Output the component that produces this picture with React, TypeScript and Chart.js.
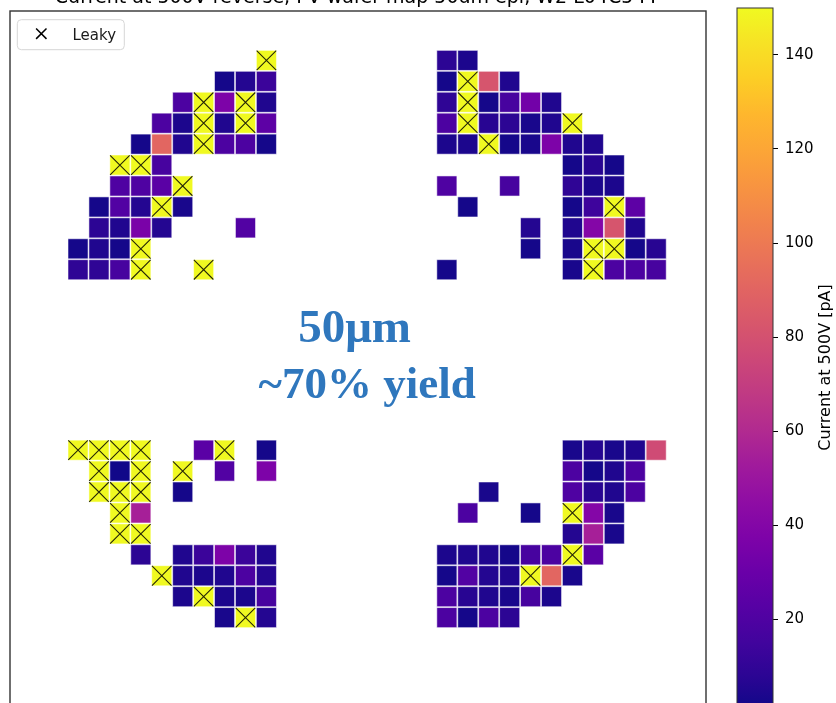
import React, { useEffect, useRef } from "react";
import { Chart, registerables } from "chart.js";

Chart.register(...registerables);

// ---- text ----
const TITLE = "Current at 500V reverse, PV wafer map 50um epi, W2 L04C5 FF";
const CBAR_LABEL = "Current at 500V [pA]";
const LEGEND_LABEL = "Leaky";
const NOTE_LINES = ["50\u03bcm", "~70% yield"];

// ---- colour scale ----
const V_MIN = 0;
const V_MAX = 150;
const CBAR_TICKS = [20, 40, 60, 80, 100, 120, 140];

// ---- die currents [pA] per quadrant, row by row from the top ----
// null: no die, L: leaky die (current beyond the colour scale)
const _ = null;
const L = "L";

const upperLeft = [
  [_, _, _, _, _, _, _, _, _, L],
  [_, _, _, _, _, _, _, 2, 6, 13],
  [_, _, _, _, _, 19, L, 37, L, 5],
  [_, _, _, _, 19, 4, L, 5, L, 25],
  [_, _, _, 2, 91, 5, L, 19, 19, 2],
  [_, _, L, L, 17, _, _, _, _, _],
  [_, _, 20, 20, 24, L, _, _, _, _],
  [_, 2, 21, 6, L, 3, _, _, _, _],
  [_, 8, 5, 36, 6, _, _, _, 21, _],
  [2, 5, 2, L, _, _, _, _, _, _],
  [9, 9, 17, L, _, _, L, _, _, _],
];

const upperRight = [
  [8, 4, _, _, _, _, _, _, _, _, _],
  [2, L, 82, 5, _, _, _, _, _, _, _],
  [9, L, 2, 17, 33, 5, _, _, _, _, _],
  [19, L, 7, 8, 3, 5, L, _, _, _, _],
  [4, 4, L, 2, 3, 37, 5, 5, _, _, _],
  [_, _, _, _, _, _, 2, 7, 2, _, _],
  [20, _, _, 17, _, _, 9, 4, 4, _, _],
  [_, 2, _, _, _, _, 2, 14, L, 25, _],
  [_, _, _, _, 6, _, 5, 40, 82, 5, _],
  [_, _, _, _, 2, _, 3, L, L, 2, 7],
  [2, _, _, _, _, _, 3, L, 19, 19, 17],
];

const lowerLeft = [
  [L, L, L, L, _, _, 24, L, _, 2],
  [_, L, 1, L, _, L, _, 21, _, 37],
  [_, L, L, L, _, 2, _, _, _, _],
  [_, _, L, 55, _, _, _, _, _, _],
  [_, _, L, L, _, _, _, _, _, _],
  [_, _, _, 8, _, 5, 13, 37, 13, 5],
  [_, _, _, _, L, 5, 4, 5, 19, 6],
  [_, _, _, _, _, 4, L, 4, 4, 17],
  [_, _, _, _, _, _, _, 3, L, 6],
];

const lowerRight = [
  [_, _, _, _, _, _, 3, 6, 3, 5, 77],
  [_, _, _, _, _, _, 19, 2, 5, 19, _],
  [_, _, 3, _, _, _, 20, 7, 5, 19, _],
  [_, 19, _, _, 2, _, L, 40, 3, _, _],
  [_, _, _, _, _, _, 6, 55, 3, _, _],
  [4, 5, 5, 2, 17, 19, L, 24, _, _, _],
  [2, 21, 6, 5, L, 91, 3, _, _, _, _],
  [19, 7, 5, 3, 17, 4, _, _, _, _, _],
  [19, 2, 19, 8, _, _, _, _, _, _, _],
];

// wafer position (in die pitches) of each quadrant's first column and first row
const QUADRANTS = [
  { grid: upperLeft, x0: -13.31, y0: 14.31 },
  { grid: upperRight, x0: 4.31, y0: 14.31 },
  { grid: lowerLeft, x0: -13.31, y0: -4.31 },
  { grid: lowerRight, x0: 4.31, y0: -4.31 },
];

const X_RANGE = [-16.56, 16.69];
const Y_RANGE = [-16.58, 16.67];

// matplotlib "plasma", sampled every 5 %
const PLASMA = [
  "#0d0887", "#2a0593", "#41049d", "#5601a4", "#6a00a8", "#7e03a8", "#8f0da4",
  "#a01a9c", "#b12a90", "#bf3984", "#cc4778", "#d7566c", "#e16462", "#ea7457",
  "#f2844b", "#f89540", "#fca636", "#feb72d", "#fcce25", "#f7e225", "#f0f921",
];

function hexRgb(h: string): number[] {
  return [1, 3, 5].map((i) => parseInt(h.slice(i, i + 2), 16));
}

function plasma(t: number): string {
  const n = PLASMA.length - 1;
  const u = Math.min(1, Math.max(0, t)) * n;
  const i = Math.min(n - 1, Math.floor(u));
  const f = u - i;
  const a = hexRgb(PLASMA[i]);
  const b = hexRgb(PLASMA[i + 1]);
  const c = a.map((v, k) => Math.round(v + (b[k] - v) * f));
  return `rgb(${c[0]},${c[1]},${c[2]})`;
}

function colourFor(v: number | null): string {
  if (v === null) return plasma(1);
  return plasma((v - V_MIN) / (V_MAX - V_MIN));
}

type Die = { x: number; y: number; v: number | null; leaky: boolean };

const dies: Die[] = [];
for (const q of QUADRANTS) {
  q.grid.forEach((row, r) =>
    row.forEach((cell, c) => {
      if (cell === null) return;
      const leaky = cell === L;
      dies.push({ x: q.x0 + c, y: q.y0 - r, v: leaky ? null : (cell as number), leaky });
    })
  );
}
const leakyDies = dies.filter((d) => d.leaky).map((d) => ({ x: d.x, y: d.y }));

const SANS = "'DejaVu Sans', sans-serif";

function pitch(chart: any): number {
  const s = chart.scales && chart.scales.x;
  if (!s) return 21;
  return Math.abs(s.getPixelForValue(1) - s.getPixelForValue(0));
}

const mapDecor = {
  id: "mapDecor",
  afterDraw(chart: any) {
    const { ctx, chartArea } = chart;
    const { left, right, top, bottom } = chartArea;
    const xs = chart.scales.x;
    const ys = chart.scales.y;
    ctx.save();

    // axes frame
    ctx.strokeStyle = "#333333";
    ctx.lineWidth = 1.4;
    ctx.strokeRect(left, top, right - left, bottom - top);

    // title
    ctx.fillStyle = "#000";
    ctx.font = `19px ${SANS}`;
    ctx.textAlign = "center";
    ctx.textBaseline = "alphabetic";
    ctx.fillText(TITLE, (left + right) / 2, top - 8);

    // legend
    const bx = left + 7.3;
    const by = top + 8.7;
    const bw = 107;
    const bh = 30;
    ctx.beginPath();
    ctx.roundRect(bx, by, bw, bh, 4);
    ctx.fillStyle = "rgba(255,255,255,0.85)";
    ctx.fill();
    ctx.strokeStyle = "#d6d6d6";
    ctx.lineWidth = 1;
    ctx.stroke();
    const mx = left + 31.3;
    const my = top + 22.7;
    const mh = 5.2;
    ctx.beginPath();
    ctx.moveTo(mx - mh, my - mh);
    ctx.lineTo(mx + mh, my + mh);
    ctx.moveTo(mx + mh, my - mh);
    ctx.lineTo(mx - mh, my + mh);
    ctx.strokeStyle = "#000";
    ctx.lineWidth = 1.5;
    ctx.stroke();
    ctx.fillStyle = "#1a1a1a";
    ctx.font = `15px ${SANS}`;
    ctx.textAlign = "left";
    ctx.fillText(LEGEND_LABEL, left + 62.5, top + 28.7);

    // annotation
    ctx.fillStyle = "#2f77bd";
    ctx.textAlign = "center";
    ctx.font = "bold 47px 'Liberation Serif', serif";
    ctx.fillText(NOTE_LINES[0], xs.getPixelForValue(-0.1), ys.getPixelForValue(0.84));
    ctx.font = "bold 45px 'Liberation Serif', serif";
    ctx.fillText(NOTE_LINES[1], xs.getPixelForValue(0.5), ys.getPixelForValue(-1.82));
    ctx.restore();
  },
};

const colorbarDecor = {
  id: "colorbarDecor",
  afterDraw(chart: any) {
    const { ctx, chartArea } = chart;
    const { left, right, top, bottom } = chartArea;
    ctx.save();
    ctx.strokeStyle = "#333333";
    ctx.lineWidth = 1;
    ctx.strokeRect(left, top, right - left, bottom - top);
    ctx.translate(right + 53, (top + bottom) / 2 + 7);
    ctx.rotate(-Math.PI / 2);
    ctx.fillStyle = "#000";
    ctx.font = `16px ${SANS}`;
    ctx.textAlign = "center";
    ctx.textBaseline = "middle";
    ctx.fillText(CBAR_LABEL, 0, 0);
    ctx.restore();
  },
};

function mapConfig(): any {
  return {
    type: "scatter",
    data: {
      datasets: [
        {
          label: LEGEND_LABEL,
          data: leakyDies,
          pointStyle: "crossRot",
          pointRadius: (c: any) => pitch(c.chart) * 0.66,
          pointHoverRadius: (c: any) => pitch(c.chart) * 0.66,
          pointBorderColor: "rgba(0,0,0,0.85)",
          pointBackgroundColor: "transparent",
          pointBorderWidth: 1.1,
        },
        {
          label: "Current",
          data: dies,
          pointStyle: "rect",
          pointRadius: (c: any) => pitch(c.chart) * 0.96 * Math.SQRT1_2,
          pointHoverRadius: (c: any) => pitch(c.chart) * 0.96 * Math.SQRT1_2,
          pointBackgroundColor: (c: any) => (c.raw ? colourFor(c.raw.v) : "#000"),
          pointBorderColor: "rgba(255,255,255,0.55)",
          pointBorderWidth: 1,
        },
      ],
    },
    options: {
      animation: false,
      responsive: false,
      events: [],
      layout: { padding: { left: 10, top: 11, right: 130, bottom: 23 } },
      scales: {
        x: { type: "linear", min: X_RANGE[0], max: X_RANGE[1], display: false },
        y: { type: "linear", min: Y_RANGE[0], max: Y_RANGE[1], display: false },
      },
      plugins: {
        legend: { display: false },
        tooltip: { enabled: false },
      },
    },
    plugins: [mapDecor],
  };
}

function colorbarConfig(): any {
  return {
    type: "bar",
    data: {
      labels: [""],
      datasets: [
        {
          data: [[V_MIN, V_MAX]],
          barPercentage: 1,
          categoryPercentage: 1,
          borderWidth: 0,
          backgroundColor: (c: any) => {
            const chart = c.chart;
            const area = chart.chartArea;
            const ys = chart.scales.y;
            if (!area || !ys) return plasma(0.5);
            const g = chart.ctx.createLinearGradient(0, ys.getPixelForValue(V_MIN), 0, ys.getPixelForValue(V_MAX));
            PLASMA.forEach((col, i) => g.addColorStop(i / (PLASMA.length - 1), col));
            return g;
          },
        },
      ],
    },
    options: {
      animation: false,
      responsive: false,
      events: [],
      layout: { padding: { left: 37, top: 8, right: 0, bottom: 47 } },
      scales: {
        x: { display: false },
        y: {
          position: "right",
          min: V_MIN,
          max: V_MAX,
          afterBuildTicks: (s: any) => {
            s.ticks = CBAR_TICKS.map((v) => ({ value: v }));
          },
          afterFit: (s: any) => {
            s.width = 63;
            s.paddingTop = 0;
            s.paddingBottom = 0;
          },
          grid: {
            display: true,
            drawOnChartArea: false,
            drawTicks: true,
            tickLength: 5,
            color: "#000",
            lineWidth: 1,
          },
          border: { display: false },
          ticks: {
            padding: 7,
            color: "#000",
            font: { family: "DejaVu Sans", size: 15 },
          },
        },
      },
      plugins: {
        legend: { display: false },
        tooltip: { enabled: false },
      },
    },
    plugins: [colorbarDecor],
  };
}

export default function App() {
  const mapRef = useRef<HTMLCanvasElement>(null);
  const barRef = useRef<HTMLCanvasElement>(null);

  useEffect(() => {
    const map = new Chart(mapRef.current as HTMLCanvasElement, mapConfig());
    const bar = new Chart(barRef.current as HTMLCanvasElement, colorbarConfig());
    return () => {
      map.destroy();
      bar.destroy();
    };
  }, []);

  return (
    <div
      style={{
        position: "fixed",
        left: 0,
        top: 0,
        width: 836,
        height: 703,
        overflow: "hidden",
        background: "#fff",
      }}
    >
      <canvas ref={mapRef} width={836} height={730} style={{ position: "absolute", left: 0, top: 0 }} />
      <canvas ref={barRef} width={136} height={760} style={{ position: "absolute", left: 700, top: 0 }} />
    </div>
  );
}
